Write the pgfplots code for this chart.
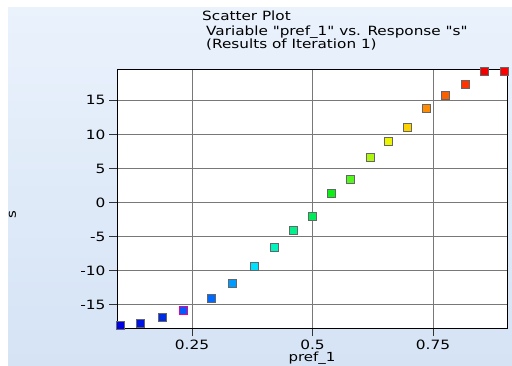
\documentclass[border=0pt]{standalone}
\usepackage{fontspec}
\setmainfont[FakeStretch=1.2, Ligatures=TeXOff]{DejaVu Sans}
\usepackage{pgfplots}
\pgfplotsset{compat=1.18}
\definecolor{panelT}{RGB}{234,242,252}
\definecolor{panelB}{RGB}{213,227,245}
\definecolor{gridc}{RGB}{120,120,120}
\definecolor{c0}{RGB}{0,0,225}
\definecolor{c1}{RGB}{0,20,230}
\definecolor{c2}{RGB}{0,45,225}
\definecolor{c3}{RGB}{0,90,255}
\definecolor{c4}{RGB}{0,105,255}
\definecolor{c5}{RGB}{0,155,255}
\definecolor{c6}{RGB}{0,225,255}
\definecolor{c7}{RGB}{0,245,190}
\definecolor{c8}{RGB}{0,240,140}
\definecolor{c9}{RGB}{0,235,90}
\definecolor{c10}{RGB}{10,240,20}
\definecolor{c11}{RGB}{85,245,30}
\definecolor{c12}{RGB}{175,245,20}
\definecolor{c13}{RGB}{235,245,0}
\definecolor{c14}{RGB}{252,210,0}
\definecolor{c15}{RGB}{255,140,0}
\definecolor{c16}{RGB}{250,95,0}
\definecolor{c17}{RGB}{255,50,0}
\definecolor{c18}{RGB}{245,0,0}
\definecolor{c19}{RGB}{255,0,0}
\begin{document}
\begin{tikzpicture}[x=1bp,y=1bp]
\path[use as bounding box] (0,0) rectangle (512,-365);
\fill[white] (0,0) rectangle (512,-365);
\shade[top color=panelT, bottom color=panelB] (8,-7) rectangle (512,-365);
\node[anchor=base west, inner sep=0pt, font=\fontsize{12.7bp}{14bp}\selectfont] at (202,-20.7) {Scatter Plot};
\node[anchor=base west, inner sep=0pt, font=\fontsize{12.7bp}{14bp}\selectfont] at (206,-35.3) {Variable "pref\_1" vs. Response "s"};
\node[anchor=base west, inner sep=0pt, font=\fontsize{12.7bp}{14bp}\selectfont] at (206,-48.3) {(Results of Iteration 1)};
\node[rotate=90, inner sep=0pt, font=\fontsize{12.5bp}{14bp}\selectfont] at (12.5,-214.5) {s};
\node[anchor=base, inner sep=0pt, font=\fontsize{12.5bp}{14bp}\selectfont] at (312,-361) {pref\_1};
\begin{axis}[
  at={(117bp,-328bp)}, anchor=south west,
  width=390bp, height=259bp, scale only axis,
  axis background/.style={fill=white},
  xmin=0.0944, xmax=0.9035,
  ymin=-18.4, ymax=19.6,
  xtick={0.25,0.5,0.75},
  xticklabels={0.25,0.5,0.75},
  ytick={-15,-10,-5,0,5,10,15},
  yticklabels={-15,-10,-5,0,5,10,15},
  tick align=outside,
  major tick length=8bp,
  tick style={black!80, line width=0.7bp},
  xtick pos=bottom, ytick pos=left,
  grid=major,
  major grid style={gridc, line width=0.8bp},
  axis line style={black, line width=0.9bp},
  tick label style={font=\fontsize{12.8bp}{14bp}\selectfont},
  /pgf/number format/assume math mode=true,
]
\addplot[scatter, only marks, mark=square*, mark size=4bp,
  scatter src=explicit symbolic,
  scatter/classes={
    c0={fill=c0}, c1={fill=c1}, c2={fill=c2}, c3={fill=c3,draw=magenta},
    c4={fill=c4}, c5={fill=c5}, c6={fill=c6}, c7={fill=c7},
    c8={fill=c8}, c9={fill=c9}, c10={fill=c10}, c11={fill=c11},
    c12={fill=c12}, c13={fill=c13}, c14={fill=c14}, c15={fill=c15},
    c16={fill=c16}, c17={fill=c17}, c18={fill=c18}, c19={fill=c19}},
  mark options={line width=0.6bp, draw=black!60}]
  table[x=x, y=y, meta=c] {
x      y      c
0.102 -17.94  c0
0.142 -17.70  c1
0.188 -16.76  c2
0.231 -15.80  c3
0.289 -14.00  c4
0.334 -11.80  c5
0.379  -9.30  c6
0.420  -6.60  c7
0.460  -4.10  c8
0.500  -2.00  c9
0.540   1.38  c10
0.579   3.48  c11
0.619   6.67  c12
0.658   8.96  c13
0.697  11.07  c14
0.736  13.90  c15
0.776  15.70  c16
0.817  17.40  c17
0.856  19.30  c18
0.897  19.30  c19
};
\end{axis}
\end{tikzpicture}
\end{document}
